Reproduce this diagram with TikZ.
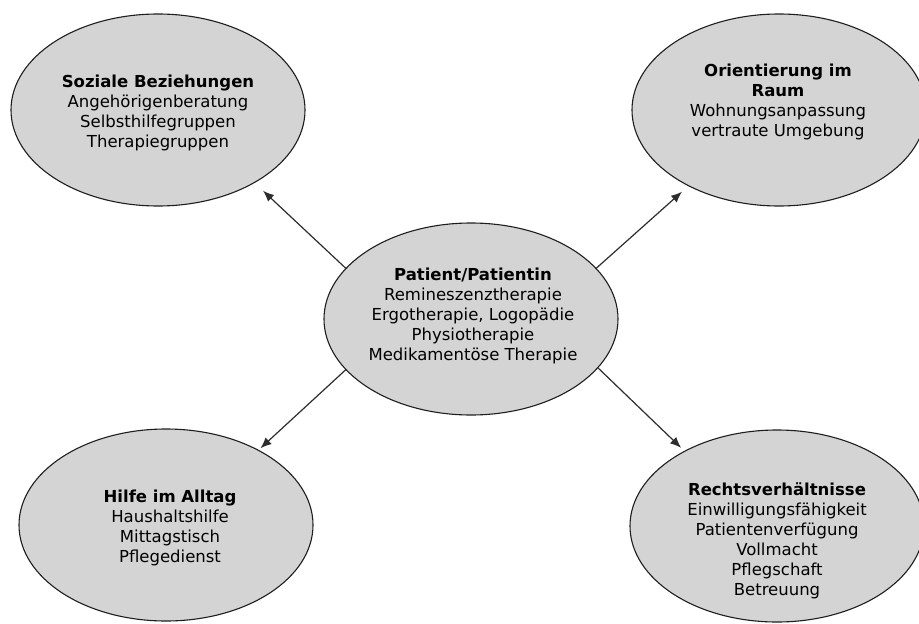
\documentclass[tikz,border=0pt]{standalone}
\usepackage{fontspec}
\setmainfont{DejaVu Sans}
\usetikzlibrary{arrows.meta,shapes.geometric,backgrounds}
\definecolor{bubblefill}{RGB}{212,212,212}
\definecolor{rim}{RGB}{30,30,30}
\definecolor{arrowgray}{RGB}{45,45,45}
\tikzset{
  bubble/.style={ellipse, minimum width=294pt, minimum height=192pt,
    inner sep=0pt, outer sep=0pt, fill=bubblefill, draw=rim, line width=1.1pt},
  txt/.style={align=center, inner sep=0pt,
    font=\fontsize{16.5}{20}\selectfont, text=black},
  arr/.style={draw=arrowgray, line width=1.2pt,
    -{Latex[length=11pt,width=9pt]}},
}
\begin{document}
\begin{tikzpicture}[x=1pt,y=-1pt]
\useasboundingbox (0,0) rectangle (919,624);
\fill[white] (0,0) rectangle (919,624);

% the five bubbles
\node[bubble] (tl) at (158,110) {};
\node[bubble] (tr) at (779,110) {};
\node[bubble] (c)  at (471,319) {};
\node[bubble] (bl) at (166,525) {};
\node[bubble] (br) at (777,526) {};

% soft drop shadows, lower right
\begin{scope}[on background layer]
\foreach \n in {tl,tr,c,bl,br}{
  \fill[black, opacity=0.18] ([shift={(9pt,-9pt)}]\n.center) ellipse [x radius=148pt, y radius=97pt];
  \fill[black, opacity=0.18] ([shift={(7pt,-7pt)}]\n.center) ellipse [x radius=147pt, y radius=96pt];
  \fill[black, opacity=0.18] ([shift={(5pt,-5pt)}]\n.center) ellipse [x radius=145pt, y radius=94pt];
}
\end{scope}

% labels
\node[txt] (tlt) at (158,113) {\textbf{Soziale Beziehungen}\\Angehörigenberatung\\Selbsthilfegruppen\\Therapiegruppen};
\node[txt] (trt) at (778,102) {\textbf{Orientierung im}\\\textbf{Raum}\\Wohnungsanpassung\\vertraute Umgebung};
\node[txt] (ct)  at (473,316) {\textbf{Patient/Patientin}\\Remineszenztherapie\\Ergotherapie, Logopädie\\Physiotherapie\\Medikamentöse Therapie};
\node[txt] (blt) at (170,528) {\textbf{Hilfe im Alltag}\\Haushaltshilfe\\Mittagstisch\\Pflegedienst};
\node[txt] (brt) at (777,541) {\textbf{Rechtsverhältnisse}\\Einwilligungsfähigkeit\\Patientenverfügung\\Vollmacht\\Pflegschaft\\Betreuung};

% connectors from the patient to the four areas
\draw[arr, shorten >=12pt] (c.158) -- (tl.-37);
\draw[arr, shorten >=9pt]  (c.22)  -- (tr.220);
\draw[arr, shorten >=3pt]  (c.202) -- (bl.39);
\draw[arr, shorten >=5pt]  (c.339) -- (br.141);
\end{tikzpicture}
\end{document}
